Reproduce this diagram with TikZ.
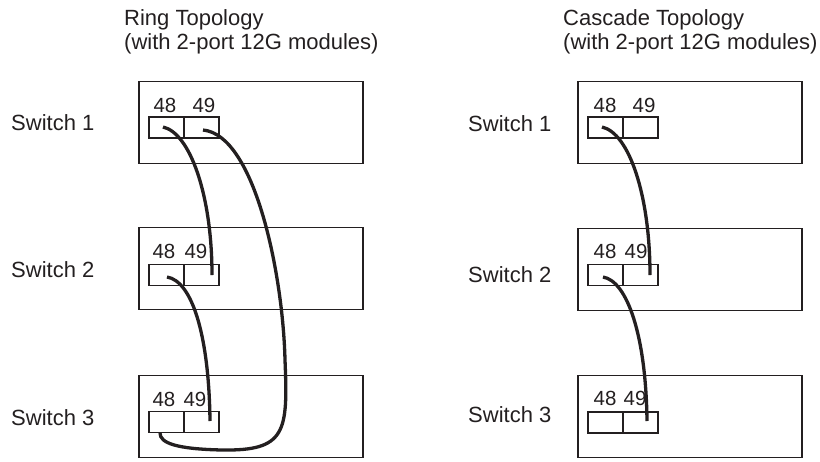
\documentclass[tikz,border=0pt]{standalone}
\usepackage{fontspec}
\setmainfont{Liberation Sans}
\definecolor{ink}{HTML}{231F20}
\begin{document}
\begin{tikzpicture}[x=1pt,y=-1pt,
  sw/.style={draw=ink, line width=1.8pt, minimum width=224pt, minimum height=82pt, inner sep=0pt},
  port/.style={draw=ink, line width=1.3pt, minimum width=35pt, minimum height=21pt, inner sep=0pt},
  lbl/.style={font=\fontsize{22}{26}\selectfont, text=ink, inner sep=0pt, anchor=base west},
  plbl/.style={font=\fontsize{20.5}{24}\selectfont, text=ink, inner sep=0pt, anchor=base},
  cable/.style={draw=ink, line width=3.3pt}]
\useasboundingbox (0,0) rectangle (820,461);

% titles
\node[lbl] (tl1) at (124,25) {Ring Topology};
\node[lbl] (tl2) at (124,49) {(with 2-port 12G modules)};
\node[lbl] (tr1) at (563,25) {Cascade Topology};
\node[lbl] (tr2) at (563,49) {(with 2-port 12G modules)};

% switch labels
\node[lbl] (ls1) at (11,130) {Switch 1};
\node[lbl] (ls2) at (11,277) {Switch 2};
\node[lbl] (ls3) at (11,425) {Switch 3};
\node[lbl] (rs1) at (468,131) {Switch 1};
\node[lbl] (rs2) at (468,282) {Switch 2};
\node[lbl] (rs3) at (468,422) {Switch 3};

% switch boxes
\node[sw] (L1) at (251,122.5) {};
\node[sw] (L2) at (251,268.5) {};
\node[sw] (L3) at (251,416.5) {};
\node[sw] (R1) at (690,122.5) {};
\node[sw] (R2) at (690,269.5) {};
\node[sw] (R3) at (690,416.5) {};

% ports
\node[port] (L1a) at (166.5,127.5) {};
\node[port] (L1b) at (201.5,127.5) {};
\node[port] (L2a) at (166.5,275) {};
\node[port] (L2b) at (201.5,275) {};
\node[port] (L3a) at (166.5,422) {};
\node[port] (L3b) at (201.5,422) {};
\node[port] (R1a) at (605.5,127.5) {};
\node[port] (R1b) at (640.5,127.5) {};
\node[port] (R2a) at (605.5,275) {};
\node[port] (R2b) at (640.5,275) {};
\node[port] (R3a) at (605.5,422.5) {};
\node[port] (R3b) at (640.5,422.5) {};

% port labels
\node[plbl] (L1an) at (165,112) {48};
\node[plbl] (L1bn) at (204,112) {49};
\node[plbl] (L2an) at (164,258) {48};
\node[plbl] (L2bn) at (196,258) {49};
\node[plbl] (L3an) at (164,406) {48};
\node[plbl] (L3bn) at (195,406) {49};
\node[plbl] (R1an) at (605,112) {48};
\node[plbl] (R1bn) at (644,112) {49};
\node[plbl] (R2an) at (605,258) {48};
\node[plbl] (R2bn) at (636,258) {49};
\node[plbl] (R3an) at (605,405) {48};
\node[plbl] (R3bn) at (635,405) {49};

% cable end points
\coordinate (L1ap) at (163,127);
\coordinate (L1bp) at (203,130);
\coordinate (L2ap) at (167,277);
\coordinate (L2bp) at (212,275);
\coordinate (L3ap) at (160,433);
\coordinate (L3bp) at (210,421);
\coordinate (R1ap) at (602,127);
\coordinate (R2ap) at (603,277);
\coordinate (R2bp) at (650,275);
\coordinate (R3bp) at (647,421);

% cables, ring
\draw[cable] (L1ap) .. controls (190,133) and (212,195) .. (L2bp);
\draw[cable] (L1bp) .. controls (255,135) and (283,275) .. (285,360)
   .. controls (288,432) and (286,451) .. (222,450)
   .. controls (176,449) and (160,443) .. (L3ap);
\draw[cable] (L2ap) .. controls (192,281) and (209,335) .. (L3bp);

% cables, cascade
\draw[cable] (R1ap) .. controls (629,133) and (650,195) .. (R2bp);
\draw[cable] (R2ap) .. controls (627,281) and (646,335) .. (R3bp);
\end{tikzpicture}
\end{document}
